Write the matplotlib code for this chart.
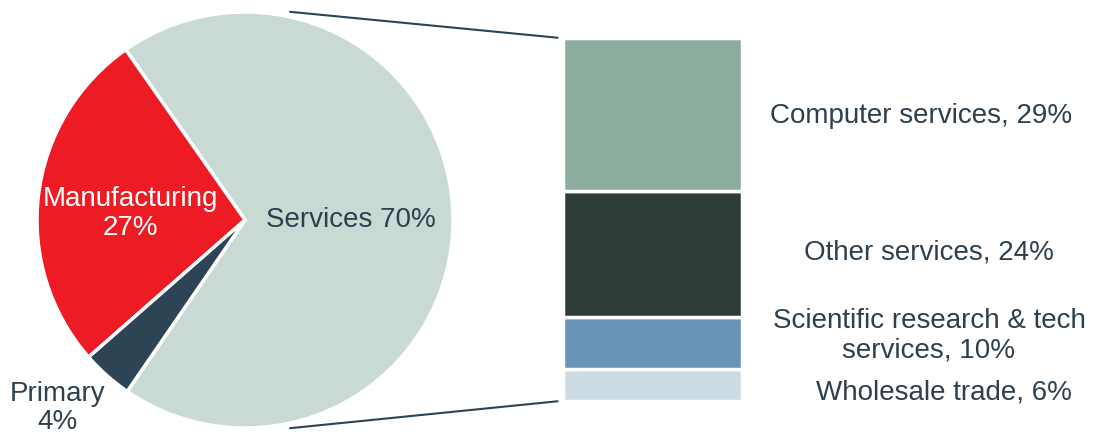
import matplotlib
matplotlib.use("Agg")
import matplotlib.pyplot as plt
import numpy as np
from matplotlib.patches import ConnectionPatch

# sector shares (%)
sectors = ["Services", "Manufacturing", "Primary"]
sector_vals = [70, 27, 4]
sector_colors = ["#c8dad3", "#ed1c24", "#2d4454"]

# breakdown of services (%), top to bottom
sub_names = ["Computer services, 29%", "Other services, 24%",
             "Scientific research & tech\nservices, 10%", "Wholesale trade, 6%"]
sub_vals = [29, 24, 10, 6]
sub_colors = ["#8cac9d", "#2e3c36", "#6794b7", "#cddbe5"]

plt.rcParams['font.family'] = ['Liberation Sans', 'DejaVu Sans']
txt_color = "#2d4050"
W, H = 1099, 437
fig = plt.figure(figsize=(W / 100, H / 100), dpi=100)

# pie: centre (245,220) px, radius 208 px
cx, cy, r = 245, 220, 208
ax1 = fig.add_axes([(cx - r) / W, (H - cy - r) / H, 2 * r / W, 2 * r / H])
ax1.pie(sector_vals, colors=sector_colors, startangle=235.5, counterclock=True,
        wedgeprops=dict(edgecolor="white", linewidth=2.5))
ax1.set_xlim(-1, 1)
ax1.set_ylim(-1, 1)
ax1.text(0.51, 0.0, "Services 70%", ha="center", va="center", fontsize=20, color=txt_color)
ax1.text(-0.55, 0.03, "Manufacturing\n27%", ha="center", va="center", fontsize=20,
         color="white", linespacing=1.15)
ax1.text(-0.90, -0.905, "Primary\n4%", ha="center", va="center", fontsize=20,
         color=txt_color, linespacing=1.1)

# stacked bar: x 563-742 px, y 38-401 px
bx0, bx1, by0, by1 = 563, 742, 38, 401
ax2 = fig.add_axes([bx0 / W, (H - by1) / H, (bx1 - bx0) / W, (by1 - by0) / H])
bottom = 0
tops = []
for name, v, c in zip(sub_names[::-1], sub_vals[::-1], sub_colors[::-1]):
    ax2.bar(0, v, width=1.0, bottom=bottom, color=c, edgecolor="white", linewidth=2.5)
    tops.append((name, bottom + v / 2))
    bottom += v
ax2.set_xlim(-0.5, 0.5)
ax2.set_ylim(0, sum(sub_vals))
ax2.axis("off")

label_x = {"Computer services, 29%": 921, "Other services, 24%": 929,
           "Scientific research & tech\nservices, 10%": 929, "Wholesale trade, 6%": 944}
label_dy = {"Computer services, 29%": -0.3, "Other services, 24%": 0.3,
            "Scientific research & tech\nservices, 10%": 1.4, "Wholesale trade, 6%": -1.4}
for name, ymid in tops:
    xa = (label_x[name] - bx0) / (bx1 - bx0) - 0.5
    ax2.text(xa, ymid + label_dy[name], name, ha="center", va="center", fontsize=20,
             color=txt_color, linespacing=1.2, clip_on=False)

# connector lines
ang = np.deg2rad(77.8)
rr = 213 / r
for sgn, yb in [(1, sum(sub_vals) + 0.05), (-1, -0.05)]:
    con = ConnectionPatch(xyA=(rr * np.cos(ang), sgn * rr * np.sin(ang)), coordsA=ax1.transData,
                          xyB=(-0.53, yb), coordsB=ax2.transData,
                          color="#2d4454", linewidth=1.5)
    fig.add_artist(con)

fig.savefig("out.png", dpi=100, facecolor="white")
